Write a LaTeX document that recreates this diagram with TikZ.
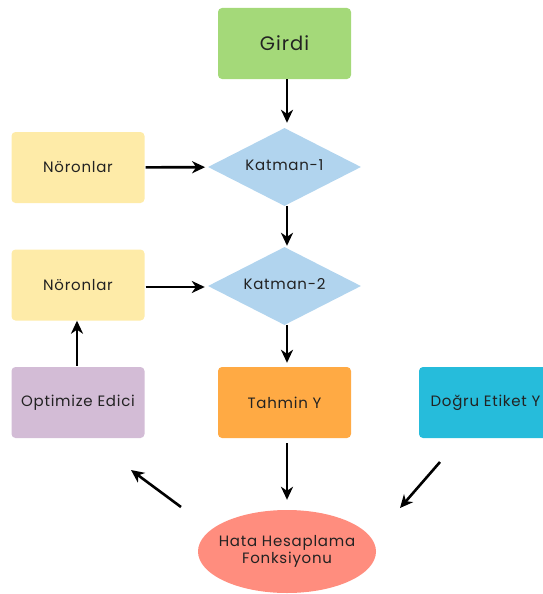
\documentclass[tikz,border=0pt]{standalone}
\usepackage{fontspec}
\setmainfont{Poppins}[LetterSpace=5]
\usetikzlibrary{shapes.geometric,arrows.meta}
\definecolor{inputgreen}{HTML}{A4D979}
\definecolor{neuronyellow}{HTML}{FEEBA8}
\definecolor{layerblue}{HTML}{B1D4EE}
\definecolor{optpurple}{HTML}{D3BCD6}
\definecolor{predorange}{HTML}{FFAA44}
\definecolor{labelcyan}{HTML}{26BCDB}
\definecolor{losssalmon}{HTML}{FF8D7E}
\definecolor{txt}{HTML}{222222}
% label of zero width, so that the shape keeps its set size
\newcommand{\fixedlabel}[1]{\makebox[0pt]{\begin{tabular}{@{}c@{}}#1\end{tabular}}}
\tikzset{
  box/.style={rectangle, rounded corners=4pt, minimum width=133pt, minimum height=71pt,
    inner sep=0pt, text=txt, font=\fontsize{15}{17}\selectfont},
  layer/.style={diamond, fill=layerblue, minimum width=153pt, minimum height=78pt,
    inner sep=0pt, text=txt, font=\fontsize{15}{17}\selectfont},
  flow/.style={line width=2.6pt, -{Stealth[length=13pt,width=12pt,inset=4pt]}},
}
\begin{document}
\begin{tikzpicture}[x=1pt,y=-1pt]
\useasboundingbox (0,0) rectangle (542,594);
% main column
\node[box, fill=inputgreen, font=\fontsize{19.5}{22}\selectfont] (girdi) at (284.5,43.5) {Girdi};
\node[layer] (k1) at (284.5,167) {\fixedlabel{Katman-1}};
\node[layer] (k2) at (284.5,286) {\fixedlabel{Katman-2}};
\node[box, fill=predorange] (tahmin) at (284.5,402.5) {Tahmin Y};
\node[ellipse, fill=losssalmon, minimum width=178pt, minimum height=83pt, inner sep=0pt,
  text=txt, font=\fontsize{15}{17}\selectfont] (hata) at (287,551.5)
  {\fixedlabel{Hata Hesaplama\\Fonksiyonu}};
% side boxes
\node[box, fill=neuronyellow] (n1) at (78,167.5) {Nöronlar};
\node[box, fill=neuronyellow] (n2) at (78,285) {Nöronlar};
\node[box, fill=optpurple] (opt) at (78,402.5) {Optimize Edici};
\node[box, fill=labelcyan] (dogru) at (485.5,402.5) {Doğru Etiket Y};
% free ends of the diagonal arrows
\coordinate (d1) at (440,462);
\coordinate (d2) at (400,508);
\coordinate (o1) at (181,507);
\coordinate (o2) at (131,470);
% connectors
\draw[flow, shorten >=5pt] (girdi.south -| 287,0) -- (k1.north -| 287,0);
\draw[flow, shorten <=1pt, shorten >=3pt] (n1) -- (k1);
\draw[flow, shorten >=1pt] (k1.south -| 287,0) -- (k2.north -| 287,0);
\draw[flow, shorten <=1pt, shorten >=3pt] (n2.east |- 0,287) -- (k2.west |- 0,287);
\draw[flow, shorten >=4pt] (k2.south -| 287,0) -- (tahmin.north -| 287,0);
\draw[flow, shorten <=1pt] (opt.north -| 77,0) -- (n2.south -| 77,0);
\draw[flow, shorten <=5pt, shorten >=10pt] (tahmin.south -| 287,0) -- (hata.north);
\draw[flow] (d1) -- (d2);
\draw[flow] (o1) -- (o2);
\end{tikzpicture}
\end{document}
